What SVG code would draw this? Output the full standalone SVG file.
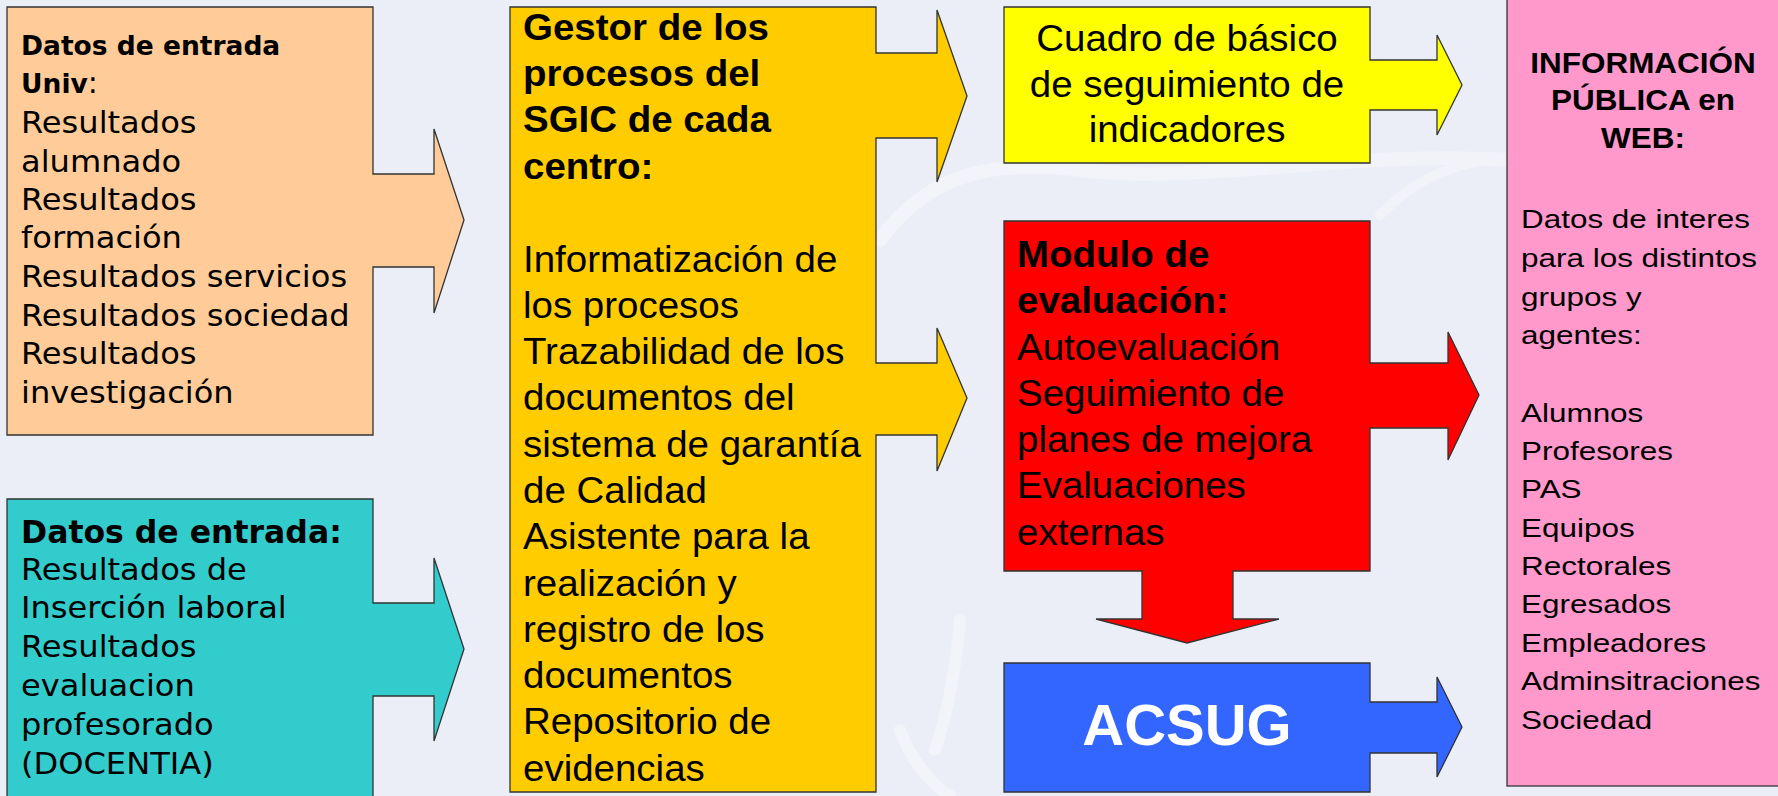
<svg xmlns="http://www.w3.org/2000/svg" width="1778" height="796" viewBox="0 0 1778 796">
<style>
.shape{stroke:#333333;stroke-width:1.3;stroke-linejoin:miter}
.dv{font-family:"DejaVu Sans",Verdana,sans-serif;font-size:30px;fill:#000}
.dvb{font-family:"DejaVu Sans",Verdana,sans-serif;font-weight:bold;fill:#000}
.ar{font-family:"Liberation Sans",Arial,sans-serif;font-size:37px;fill:#000}
.arb{font-family:"Liberation Sans",Arial,sans-serif;font-size:37px;font-weight:bold;fill:#000}
.pk{font-family:"Liberation Sans",Arial,sans-serif;font-size:26px;fill:#000}
.pkb{font-family:"Liberation Sans",Arial,sans-serif;font-size:29px;font-weight:bold;fill:#000}
</style>
<rect x="0" y="0" width="1778" height="796" fill="#EBEEF7"/>
<g id="background" fill="none" stroke="#FFFFFF" stroke-linecap="round" opacity="0.35">
<path d="M880,240 C930,170 1000,160 1080,170 C1200,185 1350,150 1510,160" stroke-width="14"/>
<path d="M1380,215 C1420,175 1460,160 1510,158" stroke-width="10"/>
<path d="M960,620 C955,680 945,720 935,750 M900,730 C915,770 940,790 950,796" stroke-width="12"/>
</g>
<g id="connectors"></g>
<g id="node-datos-univ">
<path class="shape" fill="#FFCC99" d="M7,7 H373 V174 H434 V129 L464,220 L434,313 V267 H373 V435 H7 Z"/>
<text class="dvb" font-size="26.5" x="21" y="55">Datos de entrada</text>
<text x="21" y="93"><tspan class="dvb" font-size="26.5">Univ</tspan><tspan class="dv" font-size="26.5">:</tspan></text>
<g transform="translate(21,0) scale(1.07,1)">
<text class="dv" x="0" y="133">Resultados</text>
<text class="dv" x="0" y="172">alumnado</text>
<text class="dv" x="0" y="210">Resultados</text>
<text class="dv" x="0" y="248">formación</text>
<text class="dv" x="0" y="287">Resultados servicios</text>
<text class="dv" x="0" y="326">Resultados sociedad</text>
<text class="dv" x="0" y="364">Resultados</text>
<text class="dv" x="0" y="403">investigación</text>
</g>
</g>
<g id="node-datos-insercion">
<path class="shape" fill="#33CCCC" d="M7,499 H373 V603 H434 V558 L464,649 L434,741 V696 H373 V800 H7 Z"/>
<text class="dvb" font-size="31.5" x="21" y="543">Datos de entrada:</text>
<g transform="translate(21,0) scale(1.07,1)">
<text class="dv" x="0" y="580">Resultados de</text>
<text class="dv" x="0" y="618">Inserción laboral</text>
<text class="dv" x="0" y="657">Resultados</text>
<text class="dv" x="0" y="696">evaluacion</text>
<text class="dv" x="0" y="735">profesorado</text>
<text class="dv" x="0" y="774">(DOCENTIA)</text>
</g>
</g>
<g id="node-gestor">
<path class="shape" fill="#FFCC00" d="M510,7 H876 V53 H937 V10 L967,96 L937,182 V138 H876 V363 H937 V328 L967,398 L937,471 V435 H876 V792 H510 Z"/>
<g transform="translate(523,0) scale(1.04,1)">
<text class="arb" x="0" y="40">Gestor de los</text>
<text class="arb" x="0" y="86">procesos del</text>
<text class="arb" x="0" y="132">SGIC de cada</text>
<text class="arb" x="0" y="179">centro:</text>
<text class="ar" x="0" y="272">Informatización de</text>
<text class="ar" x="0" y="318">los procesos</text>
<text class="ar" x="0" y="364">Trazabilidad de los</text>
<text class="ar" x="0" y="410">documentos del</text>
<text class="ar" x="0" y="457">sistema de garantía</text>
<text class="ar" x="0" y="503">de Calidad</text>
<text class="ar" x="0" y="549">Asistente para la</text>
<text class="ar" x="0" y="596">realización y</text>
<text class="ar" x="0" y="642">registro de los</text>
<text class="ar" x="0" y="688">documentos</text>
<text class="ar" x="0" y="734">Repositorio de</text>
<text class="ar" x="0" y="781">evidencias</text>
</g>
</g>
<g id="node-cuadro">
<path class="shape" fill="#FFFF00" d="M1004,7 H1370 V60 H1437 V35 L1462,85 L1437,135 V110 H1370 V163 H1004 Z"/>
<g transform="translate(1187,0) scale(1.04,1)" text-anchor="middle">
<text class="ar" x="0" y="51">Cuadro de básico</text>
<text class="ar" x="0" y="97">de seguimiento de</text>
<text class="ar" x="0" y="142">indicadores</text>
</g>
</g>
<g id="node-modulo">
<path class="shape" fill="#FF0000" d="M1004,221 H1370 V363 H1448 V332 L1479,395 L1448,460 V428 H1370 V571 H1233 V619 H1279 L1187,643 L1096,619 H1142 V571 H1004 Z"/>
<g transform="translate(1017,0) scale(1.04,1)">
<text class="arb" x="0" y="267">Modulo de</text>
<text class="arb" x="0" y="313">evaluación:</text>
<text class="ar" x="0" y="360">Autoevaluación</text>
<text class="ar" x="0" y="406">Seguimiento de</text>
<text class="ar" x="0" y="452">planes de mejora</text>
<text class="ar" x="0" y="498">Evaluaciones</text>
<text class="ar" x="0" y="545">externas</text>
</g>
</g>
<g id="node-acsug">
<path class="shape" fill="#3366FF" d="M1004,663 H1370 V702 H1437 V677 L1462,727 L1437,777 V753 H1370 V792 H1004 Z"/>
<text x="1187" y="745" text-anchor="middle" font-family="Liberation Sans, Arial, sans-serif" font-weight="bold" font-size="58" fill="#FFFFFF">ACSUG</text>
</g>
<g id="node-informacion">
<rect class="shape" fill="#FF99CC" x="1507" y="-2" width="290" height="788"/>
<g transform="translate(1643,0) scale(1.085,1)" text-anchor="middle">
<text class="pkb" x="0" y="73">INFORMACIÓN</text>
<text class="pkb" x="0" y="110">PÚBLICA en</text>
<text class="pkb" x="0" y="148">WEB:</text>
</g>
<g transform="translate(1521,0) scale(1.21,1)">
<text class="pk" x="0" y="228">Datos de interes</text>
<text class="pk" x="0" y="267">para los distintos</text>
<text class="pk" x="0" y="306">grupos y</text>
<text class="pk" x="0" y="344">agentes:</text>
<text class="pk" x="0" y="422">Alumnos</text>
<text class="pk" x="0" y="460">Profesores</text>
<text class="pk" x="0" y="498">PAS</text>
<text class="pk" x="0" y="537">Equipos</text>
<text class="pk" x="0" y="575">Rectorales</text>
<text class="pk" x="0" y="613">Egresados</text>
<text class="pk" x="0" y="652">Empleadores</text>
<text class="pk" x="0" y="690">Adminsitraciones</text>
<text class="pk" x="0" y="729">Sociedad</text>
</g>
</g>
</svg>
